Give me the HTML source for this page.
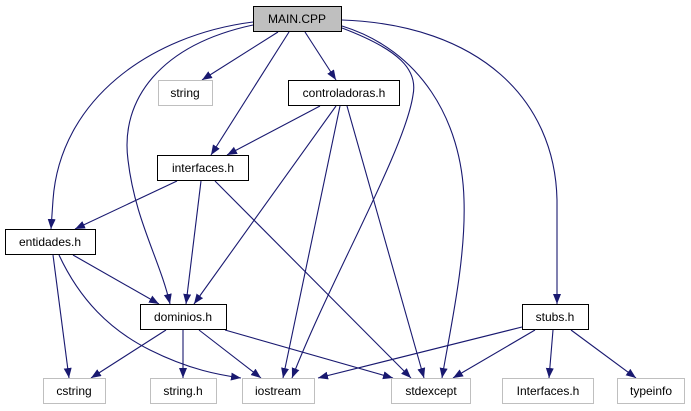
<!DOCTYPE html>
<html><head><meta charset="utf-8"><style>
html,body{margin:0;padding:0;background:#fff;}
svg{display:block;}
text{font-family:"Liberation Sans",sans-serif;font-size:12px;text-anchor:middle;fill:#000;}
</style></head><body>
<svg width="691" height="411" viewBox="0 0 691 411" xmlns="http://www.w3.org/2000/svg">
<defs>
<marker id="a" markerUnits="userSpaceOnUse" markerWidth="12" markerHeight="10" refX="10" refY="4" orient="auto">
<path d="M0,0 L10,4 L0,8 Z" fill="#191970"/>
</marker>
</defs>
<g fill="none" stroke="#191970" stroke-width="1.1" marker-end="url(#a)">
<path d="M278,32 L202,80"/>
<path d="M289,32 L211,155"/>
<path d="M305,32 L336,80"/>
<path d="M253,22 C150,35 60,100 53,200 L51,229"/>
<path d="M253,25 C160,45 120,100 128,160 C135,220 160,260 170,304"/>
<path d="M342,28 C400,50 418,70 413,95 C405,150 330,280 292,378"/>
<path d="M342,26 C420,50 462,120 464,200 C466,260 450,330 442,378"/>
<path d="M342,20 C480,25 555,100 557,200 L557,304"/>
<path d="M320,106 L227,155"/>
<path d="M336,106 L194,304"/>
<path d="M340,106 L283,378"/>
<path d="M347,106 L424,378"/>
<path d="M177,181 L75,229"/>
<path d="M201,181 L186,304"/>
<path d="M215,181 L411,378"/>
<path d="M53,255 L69,378"/>
<path d="M59,255 C80,300 110,330 150,350 C190,370 220,375 241,378"/>
<path d="M73,255 L159,304"/>
<path d="M166,330 L91,378"/>
<path d="M183,330 L183,378"/>
<path d="M199,330 L261,378"/>
<path d="M225,330 L393,378"/>
<path d="M522,327 L318,378"/>
<path d="M535,330 L453,378"/>
<path d="M553,330 L549,378"/>
<path d="M571,330 L636,378"/>
</g>
<g stroke-width="1">
<rect x="253.5" y="6.5" width="88" height="25" fill="#bfbfbf" stroke="#000"/>
<rect x="158.5" y="80.5" width="54" height="25" fill="#fff" stroke="#bfbfbf"/>
<rect x="288.5" y="80.5" width="111" height="25" fill="#fff" stroke="#000"/>
<rect x="157.5" y="155.5" width="91" height="25" fill="#fff" stroke="#000"/>
<rect x="5.5" y="229.5" width="90" height="25" fill="#fff" stroke="#000"/>
<rect x="140.5" y="304.5" width="86" height="25" fill="#fff" stroke="#000"/>
<rect x="522.5" y="304.5" width="66" height="25" fill="#fff" stroke="#000"/>
<rect x="43.5" y="378.5" width="62" height="25" fill="#fff" stroke="#bfbfbf"/>
<rect x="150.5" y="378.5" width="66" height="25" fill="#fff" stroke="#bfbfbf"/>
<rect x="242.5" y="378.5" width="72" height="25" fill="#fff" stroke="#bfbfbf"/>
<rect x="391.5" y="378.5" width="79" height="25" fill="#fff" stroke="#bfbfbf"/>
<rect x="502.5" y="378.5" width="91" height="25" fill="#fff" stroke="#bfbfbf"/>
<rect x="617.5" y="378.5" width="67" height="25" fill="#fff" stroke="#bfbfbf"/>
</g>
<text x="297" y="23">MAIN.CPP</text>
<text x="185" y="97">string</text>
<text x="344" y="97">controladoras.h</text>
<text x="203" y="172">interfaces.h</text>
<text x="50" y="246">entidades.h</text>
<text x="183" y="321">dominios.h</text>
<text x="555" y="321">stubs.h</text>
<text x="74" y="395">cstring</text>
<text x="183" y="395">string.h</text>
<text x="278" y="395">iostream</text>
<text x="431" y="395">stdexcept</text>
<text x="548" y="395">Interfaces.h</text>
<text x="651" y="395">typeinfo</text>
</svg>
</body></html>
